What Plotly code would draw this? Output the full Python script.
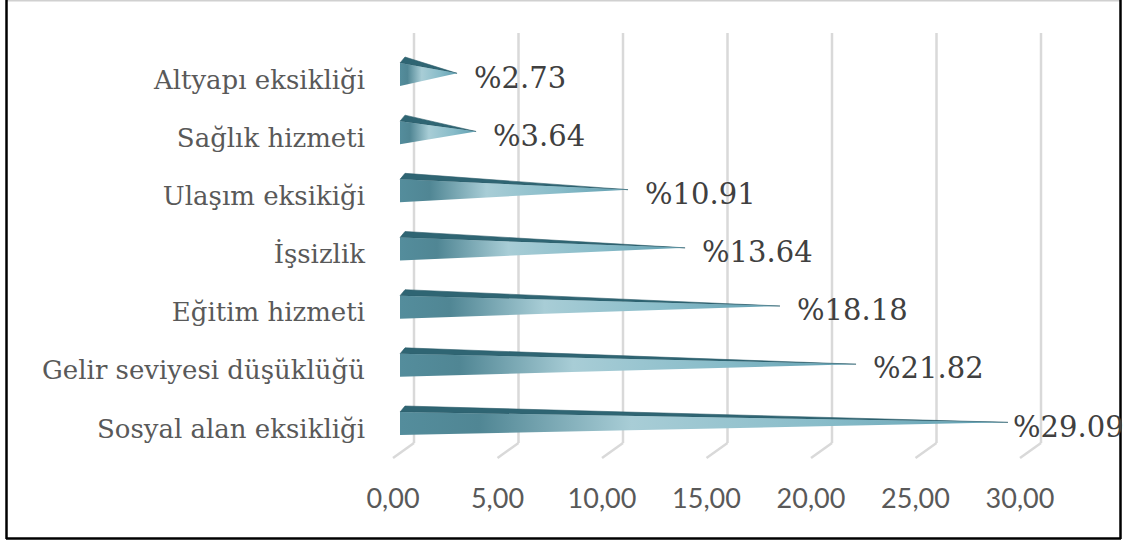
import plotly.graph_objects as go

# ---- data (top to bottom as displayed) ----
categories = [
    "Altyapı eksikliği",
    "Sağlık hizmeti",
    "Ulaşım eksikiği",
    "İşsizlik",
    "Eğitim hizmeti",
    "Gelir seviyesi düşüklüğü",
    "Sosyal alan eksikliği",
]
values = [2.73, 3.64, 10.91, 13.64, 18.18, 21.82, 29.09]
tick_values = [0, 5, 10, 15, 20, 25, 30]
tick_labels = ["0,00", "5,00", "10,00", "15,00", "20,00", "25,00", "30,00"]

# ---- layout geometry (pixels) ----
W, H = 1127, 542
ML, MR, MT, MB = 380, 27, 33, 84
PW, PH = W - ML - MR, H - MT - MB
PX_PER_UNIT = 20.9
X0_PX = 400  # pixel where value 0 sits
xmin = (ML - X0_PX) / PX_PER_UNIT
xmax = (W - MR - X0_PX) / PX_PER_UNIT
CAT0_PX, CAT_STEP = 74.5, 58.17
ytop = (MT - CAT0_PX) / CAT_STEP
ybot = (H - MB - CAT0_PX) / CAT_STEP

def xp(px):
    return (px - ML) / PW

def yp(py):
    return (H - MB - py) / PH

HALF = 11.5 / CAT_STEP
TOP_DX = 5 / PX_PER_UNIT
TOP_DY = 6 / CAT_STEP

grad = [
    [0.0, "#548d9c"],
    [0.13, "#508694"],
    [0.38, "#a8cdd6"],
    [0.7, "#88bcc9"],
    [1.0, "#5e9daf"],
]

fig = go.Figure()
for i, (cat, v) in enumerate(zip(categories, values)):
    c = i
    # top face (dark)
    fig.add_trace(go.Scatter(
        x=[0, TOP_DX, v, 0],
        y=[c - HALF, c - HALF - TOP_DY, c - 0.02, c - HALF],
        fill="toself", mode="lines",
        line=dict(width=0.6, color="#2c5d6a"),
        fillcolor="#2f6573", hoverinfo="skip", showlegend=False,
    ))
    # front face (gradient)
    fig.add_trace(go.Scatter(
        x=[0, v, 0, 0],
        y=[c - HALF, c - 0.02, c + HALF, c - HALF],
        fill="toself", mode="lines",
        line=dict(width=0),
        fillgradient=dict(type="horizontal", colorscale=grad),
        name=cat, hoverinfo="x+name", showlegend=False,
    ))
    fig.add_annotation(
        x=v, y=c, xref="x", yref="y",
        text="%" + f"{v:.2f}",
        showarrow=False, xanchor="left", yanchor="middle",
        xshift=15 if v < 25 else 3, yshift=-3,
        font=dict(family="DejaVu Serif", size=29, color="#404040"),
    )

shapes = []
# back-wall gridlines + floor diagonals
for v in tick_values:
    shapes.append(dict(type="line", xref="x", xsizemode="pixel", xanchor=v,
                       x0=14, x1=14, yref="paper", y0=yp(443), y1=1,
                       line=dict(color="#d9d9d9", width=2.5), layer="below"))
    shapes.append(dict(type="line", xref="x", xsizemode="pixel", xanchor=v,
                       x0=14, x1=-7, yref="paper", y0=yp(443), y1=yp(458),
                       line=dict(color="#d9d9d9", width=2.5), layer="below"))
# outer frame
shapes.append(dict(type="line", xref="paper", yref="paper",
                   x0=xp(6), x1=xp(1120), y0=yp(0.75), y1=yp(0.75),
                   line=dict(color="#d0d0d0", width=1.5)))
for (a, b, c2, d) in [(6.5, 6.5, 0, 539), (1120.5, 1120.5, 0, 539), (6, 1121, 538.5, 538.5)]:
    shapes.append(dict(type="line", xref="paper", yref="paper",
                       x0=xp(a), x1=xp(b), y0=yp(c2), y1=yp(d),
                       line=dict(color="#000000", width=2.5)))

fig.update_layout(
    width=W, height=H,
    margin=dict(l=ML, r=MR, t=MT, b=MB),
    paper_bgcolor="white", plot_bgcolor="white",
    shapes=shapes,
    xaxis=dict(range=[xmin, xmax], tickvals=tick_values, ticktext=tick_labels,
               showgrid=False, zeroline=False, showline=False,
               tickfont=dict(family="Lato", size=27, color="#595959"),
               ticklabelshift=-7, ticklabelstandoff=22, fixedrange=True),
    yaxis=dict(range=[ybot, ytop], tickvals=list(range(len(categories))),
               ticktext=categories, showgrid=False, zeroline=False, showline=False,
               tickfont=dict(family="DejaVu Serif", size=26, color="#595959"),
               ticklabelstandoff=14, ticklabelshift=-5, fixedrange=True),
    showlegend=False,
)

fig.write_html(
    "out.html",
    config={"displayModeBar": False},
    post_script="document.body.style.margin='0';document.body.style.overflow='hidden';",
)
